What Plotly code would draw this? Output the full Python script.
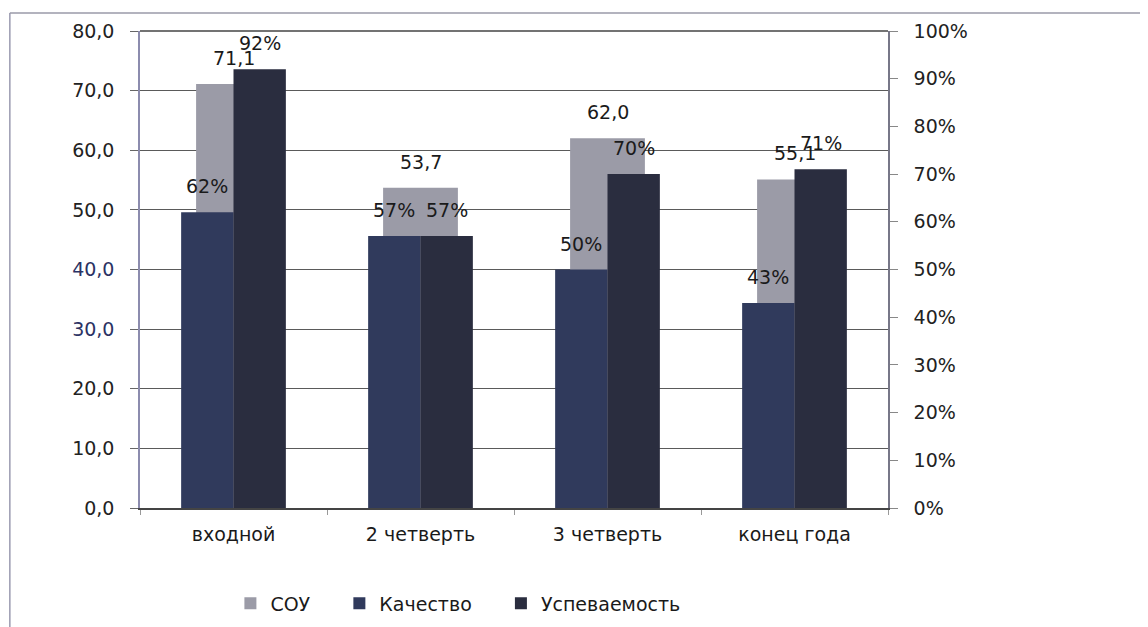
import plotly.graph_objects as go

categories = ["входной", "2 четверть", "3 четверть", "конец года"]
sou = [71.1, 53.7, 62.0, 55.1]
kachestvo = [0.62, 0.57, 0.50, 0.43]
uspevaemost = [0.92, 0.57, 0.70, 0.71]
left_ticks = [0, 10, 20, 30, 40, 50, 60, 70, 80]
right_ticks = [0, 0.1, 0.2, 0.3, 0.4, 0.5, 0.6, 0.7, 0.8, 0.9, 1.0]

def fmt_num(v):
    return f"{v:.1f}".replace(".", ",")

def fmt_pct(v):
    return f"{round(v * 100):d}%"

FONT = "DejaVu Sans"
FS = 19
TXT = "#1a1a1a"
NB = "\u00a0"

# layout geometry (px)
W, H = 1148, 627
ML, MR, MT, MB = 132, 268, 20, 127
PLOT_W = W - ML - MR
CAT_PX = PLOT_W / len(categories)

BW_SOU, OFF_SOU = 0.40, -0.20
BW_K, OFF_K = 0.28, -0.28
BW_U, OFF_U = 0.28, 0.0

fig = go.Figure()
fig.add_trace(go.Bar(
    x=categories, y=sou, name="СОУ" + NB * 4, yaxis="y",
    marker=dict(color="#9b9ba7", line=dict(width=0)),
    width=BW_SOU, offset=OFF_SOU,
))
fig.add_trace(go.Bar(
    x=categories, y=kachestvo, name="Качество" + NB * 4, yaxis="y2",
    marker=dict(color="#303a5c", line=dict(width=0)),
    width=BW_K, offset=OFF_K,
))
fig.add_trace(go.Bar(
    x=categories, y=uspevaemost, name="Успеваемость", yaxis="y2",
    marker=dict(color="#2a2d3f", line=dict(width=0)),
    width=BW_U, offset=OFF_U,
))

# data labels placed above each bar
def add_labels(values, texts, yref, offset, width):
    shift = (offset + width / 2) * CAT_PX
    for c, v, t in zip(categories, values, texts):
        fig.add_annotation(
            x=c, y=v, xref="x", yref=yref, text=t, showarrow=False,
            xshift=shift, yshift=26, xanchor="center", yanchor="middle",
            font=dict(family=FONT, size=FS, color=TXT),
        )

add_labels(sou, [fmt_num(v) for v in sou], "y", OFF_SOU, BW_SOU)
add_labels(kachestvo, [fmt_pct(v) for v in kachestvo], "y2", OFF_K, BW_K)
add_labels(uspevaemost, [fmt_pct(v) for v in uspevaemost], "y2", OFF_U, BW_U)

left_text = []
for t in left_ticks:
    s = fmt_num(t)
    if t in (30, 40):
        s = f"<span style='color:#2b3263'>{s}</span>"
    left_text.append(s)

fig.update_layout(
    width=W, height=H,
    margin=dict(l=ML, r=MR, t=MT, b=MB),
    paper_bgcolor="white", plot_bgcolor="white",
    barmode="overlay",
    font=dict(family=FONT, size=FS, color="#222222"),
    xaxis=dict(
        showline=True, linecolor="#444444", linewidth=1.5,
        ticks="outside", ticklen=5, tickcolor="#999999",
        tickson="boundaries", showgrid=False,
        tickfont=dict(family=FONT, size=FS, color=TXT),
        ticklabelstandoff=8,
    ),
    yaxis=dict(
        range=[0, 80], tickvals=left_ticks, ticktext=left_text,
        showline=True, linecolor="#8c8cae", linewidth=1.5,
        ticks="outside", ticklen=8, tickcolor="#666666",
        showgrid=True, gridcolor="#5a5a5a", gridwidth=1,
        zeroline=False, ticklabelstandoff=12,
        tickfont=dict(family=FONT, size=FS, color="#222222"),
    ),
    yaxis2=dict(
        range=[0, 1.0], tickvals=right_ticks,
        ticktext=[fmt_pct(v) for v in right_ticks],
        overlaying="y", side="right",
        showline=True, linecolor="#777788", linewidth=1.5,
        ticks="outside", ticklen=8, tickcolor="#888888",
        showgrid=False, zeroline=False, ticklabelstandoff=12,
        tickfont=dict(family=FONT, size=FS, color="#222222"),
    ),
    legend=dict(
        orientation="h", x=0.425, xanchor="center", y=-0.2, yanchor="middle",
        font=dict(family=FONT, size=FS, color=TXT),
        itemwidth=30, traceorder="normal",
    ),
    showlegend=True,
)

# top plot border line
fig.add_shape(type="line", xref="paper", yref="paper", x0=0, x1=1, y0=1, y1=1,
              line=dict(color="#444444", width=1.5))
# outer frame (scan border)
fig.add_shape(type="line", xref="paper", yref="paper", x0=-0.174, x1=-0.174, y0=-0.25, y1=1.0375,
              line=dict(color="#9a9ab0", width=1.5))
fig.add_shape(type="line", xref="paper", yref="paper", x0=-0.174, x1=1.35, y0=1.0375, y1=1.0375,
              line=dict(color="#9a9aa8", width=1.5))
fig.add_shape(type="line", xref="paper", yref="paper", x0=-0.19, x1=1.35, y0=1.052, y1=1.052,
              line=dict(color="#b0b0b8", width=1))

fig.write_html("out.html")
